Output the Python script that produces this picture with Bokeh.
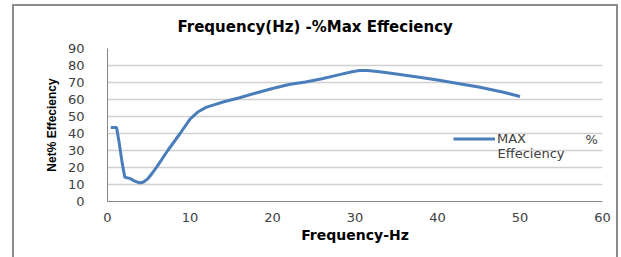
from bokeh.plotting import figure
from bokeh.models import Range1d, Label, Legend, LegendItem, FixedTicker
from bokeh.embed import file_html
from bokeh.resources import INLINE

# ---- data ----
freq_hz = [0.4, 1.1, 1.4, 1.8, 2.1, 2.7, 3.3, 3.9, 4.4, 4.9, 5.4, 6.0, 7.3, 8.8,
           10.0, 11.0, 12.0, 13.0, 14.0, 16.0, 18.0, 20.0, 22.0, 24.0, 26.0, 28.0,
           29.5, 30.5, 31.5, 33.0, 35.0, 38.0, 40.0, 43.0, 45.0, 48.0, 50.0]
max_eff = [43.5, 43.5, 35.0, 22.0, 14.3, 13.6, 12.0, 10.9, 11.5, 13.5, 16.5, 20.5, 30.0, 40.0,
           48.5, 52.8, 55.5, 57.0, 58.5, 61.0, 63.8, 66.5, 68.8, 70.3, 72.2, 74.5,
           76.2, 77.1, 77.1, 76.3, 75.0, 73.0, 71.5, 69.0, 67.3, 64.3, 61.8]
x_ticks = [0, 10, 20, 30, 40, 50, 60]
y_ticks = [0, 10, 20, 30, 40, 50, 60, 70, 80, 90]

title_text = "Frequency(Hz) -%Max Effeciency"
x_label = "Frequency-Hz"
y_label = "Net% Effeciency"
legend_label = "MAX"

BLUE = "#4a7ebb"
TXT = "#404040"

p = figure(width=606, height=253, output_backend="svg", toolbar_location=None,
           x_range=Range1d(0, 60), y_range=Range1d(0, 90),
           min_border_left=93, min_border_right=18, min_border_top=42, min_border_bottom=58,
           margin=(4, 0, 0, 12), title=title_text)
p.outline_line_color = None
p.background_fill_color = None
p.border_fill_color = None
p.styles = {"border-left": "2px solid #8c8c8c", "border-top": "2px solid #8c8c8c",
            "border-right": "2px solid #8c8c8c"}

p.title.align = "left"
p.title.offset = 70
p.title.vertical_align = "top"
p.title.standoff = 22
p.title.text_font = "DejaVu Sans"
p.title.text_font_style = "bold"
p.title.text_font_size = "15px"
p.title.text_color = "#000000"

r = p.line(freq_hz, max_eff, line_color=BLUE, line_width=3)

p.xaxis.ticker = FixedTicker(ticks=x_ticks)
p.yaxis.ticker = FixedTicker(ticks=y_ticks)
p.ygrid.ticker = FixedTicker(ticks=y_ticks)
for ax in (p.xaxis, p.yaxis):
    ax.axis_line_color = "#868686"
    ax.axis_line_width = 1
    ax.major_tick_line_color = None
    ax.minor_tick_line_color = None
    ax.major_label_text_font = "DejaVu Sans"
    ax.major_label_text_font_size = "13px"
    ax.major_label_text_color = TXT
    ax.axis_label_text_font_style = "bold"
    ax.axis_label_text_color = "#000000"

p.xaxis.major_label_standoff = 5
p.yaxis.major_label_standoff = 17
p.xaxis.axis_label = x_label
p.xaxis.axis_label_text_font = "DejaVu Sans"
p.xaxis.axis_label_text_font_size = "14px"
p.xaxis.axis_label_standoff = 2
p.yaxis.axis_label = y_label
p.yaxis.axis_label_text_font = "Liberation Sans"
p.yaxis.axis_label_text_font_size = "12px"
p.yaxis.axis_label_standoff = 6

p.xgrid.grid_line_color = None
p.ygrid.grid_line_color = "#d0d0d0"
p.ygrid.grid_line_width = 1.5

# legend
leg = Legend(items=[LegendItem(label=legend_label, renderers=[r])],
             location=(346, 55), glyph_width=42, glyph_height=15, label_standoff=2,
             padding=0, margin=0, spacing=0, border_line_alpha=0, background_fill_alpha=0,
             label_text_font="DejaVu Sans", label_text_font_size="13px", label_text_color=TXT)
p.add_layout(leg)
p.add_layout(Label(x=478, y=62, x_units="screen", y_units="screen", text="%",
                   text_font="DejaVu Sans", text_font_size="13px",
                   text_baseline="middle", text_color=TXT))
p.add_layout(Label(x=390, y=48, x_units="screen", y_units="screen", text="Effeciency",
                   text_font="DejaVu Sans", text_font_size="13px",
                   text_baseline="middle", text_color=TXT))

open("out.html", "w").write(file_html(p, INLINE))
